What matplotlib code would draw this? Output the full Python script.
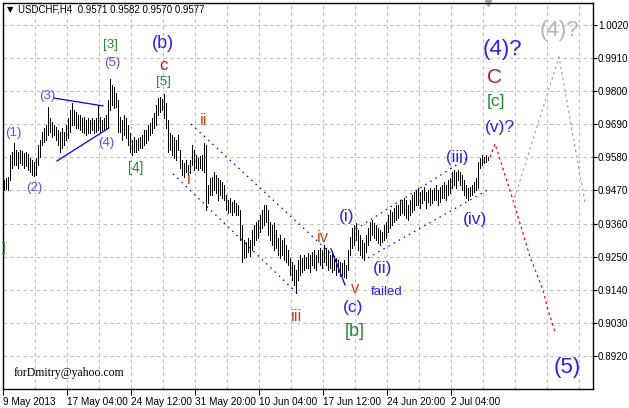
import matplotlib
matplotlib.use("Agg")
import matplotlib.pyplot as plt
import numpy as np

# USDCHF H4 bars, high / low per bar
highs = [
    0.9505, 0.9511, 0.9515, 0.9588, 0.9598, 0.9628, 0.9605, 0.9598, 0.9605, 0.9601,
    0.9595, 0.9598, 0.9591, 0.9578, 0.9571, 0.9565, 0.9578, 0.9621, 0.9638, 0.9664,
    0.9678, 0.9688, 0.9747, 0.9711, 0.9698, 0.9688, 0.9681, 0.9671, 0.9664, 0.9678,
    0.9664, 0.9688, 0.9711, 0.9738, 0.9761, 0.9738, 0.9731, 0.9721, 0.9721, 0.9711,
    0.9714, 0.9704, 0.9711, 0.9704, 0.9711, 0.9704, 0.9711, 0.9754, 0.9714, 0.9704,
    0.9711, 0.9721, 0.9771, 0.9840, 0.9820, 0.9814, 0.9794, 0.9771, 0.9714, 0.9704,
    0.9721, 0.9711, 0.9688, 0.9661, 0.9638, 0.9648, 0.9638, 0.9644, 0.9648, 0.9654,
    0.9671, 0.9671, 0.9688, 0.9694, 0.9711, 0.9728, 0.9754, 0.9777, 0.9781, 0.9774,
    0.9791, 0.9761, 0.9704, 0.9661, 0.9654, 0.9648, 0.9638, 0.9654, 0.9605, 0.9571,
    0.9561, 0.9571, 0.9555, 0.9571, 0.9621, 0.9605, 0.9588, 0.9578, 0.9585, 0.9588,
    0.9628, 0.9621, 0.9488, 0.9511, 0.9515, 0.9531, 0.9521, 0.9511, 0.9505, 0.9498,
    0.9488, 0.9455, 0.9438, 0.9445, 0.9432, 0.9438, 0.9428, 0.9422, 0.9405, 0.9355,
    0.9306, 0.9299, 0.9312, 0.9306, 0.9339, 0.9355, 0.9365, 0.9372, 0.9388, 0.9405,
    0.9422, 0.9422, 0.9405, 0.9365, 0.9355, 0.9362, 0.9339, 0.9312, 0.9322, 0.9306,
    0.9312, 0.9289, 0.9272, 0.9246, 0.9232, 0.9222, 0.9206, 0.9239, 0.9256, 0.9246,
    0.9256, 0.9249, 0.9262, 0.9256, 0.9266, 0.9272, 0.9256, 0.9272, 0.9279, 0.9272,
    0.9289, 0.9279, 0.9272, 0.9256, 0.9266, 0.9252, 0.9246, 0.9239, 0.9232, 0.9229,
    0.9239, 0.9222, 0.9272, 0.9315, 0.9345, 0.9355, 0.9362, 0.9339, 0.9322, 0.9306,
    0.9296, 0.9322, 0.9345, 0.9365, 0.9372, 0.9362, 0.9355, 0.9345, 0.9339, 0.9332,
    0.9355, 0.9365, 0.9388, 0.9405, 0.9398, 0.9412, 0.9422, 0.9422, 0.9438, 0.9438,
    0.9445, 0.9438, 0.9422, 0.9438, 0.9455, 0.9465, 0.9472, 0.9478, 0.9465, 0.9472,
    0.9482, 0.9465, 0.9472, 0.9478, 0.9472, 0.9478, 0.9488, 0.9472, 0.9482, 0.9488,
    0.9498, 0.9488, 0.9505, 0.9511, 0.9531, 0.9538, 0.9531, 0.9538, 0.9531, 0.9521,
    0.9505, 0.9488, 0.9478, 0.9482, 0.9488, 0.9498, 0.9511, 0.9565, 0.9578, 0.9588,
    0.9581, 0.9588, 0.9582]
lows = [
    0.9472, 0.9475, 0.9472, 0.9505, 0.9545, 0.9555, 0.9555, 0.9545, 0.9561, 0.9555,
    0.9545, 0.9551, 0.9538, 0.9531, 0.9521, 0.9518, 0.9521, 0.9555, 0.9581, 0.9621,
    0.9631, 0.9638, 0.9654, 0.9664, 0.9648, 0.9654, 0.9638, 0.9621, 0.9598, 0.9611,
    0.9621, 0.9638, 0.9644, 0.9664, 0.9688, 0.9688, 0.9678, 0.9678, 0.9671, 0.9664,
    0.9661, 0.9654, 0.9661, 0.9661, 0.9671, 0.9661, 0.9664, 0.9671, 0.9664, 0.9671,
    0.9671, 0.9678, 0.9681, 0.9738, 0.9754, 0.9744, 0.9747, 0.9664, 0.9664, 0.9638,
    0.9654, 0.9644, 0.9621, 0.9598, 0.9588, 0.9598, 0.9598, 0.9605, 0.9611, 0.9611,
    0.9621, 0.9628, 0.9638, 0.9654, 0.9661, 0.9678, 0.9688, 0.9721, 0.9731, 0.9738,
    0.9711, 0.9678, 0.9598, 0.9605, 0.9588, 0.9578, 0.9571, 0.9605, 0.9545, 0.9521,
    0.9515, 0.9531, 0.9521, 0.9528, 0.9555, 0.9538, 0.9545, 0.9538, 0.9545, 0.9538,
    0.9531, 0.9405, 0.9428, 0.9455, 0.9455, 0.9472, 0.9462, 0.9438, 0.9455, 0.9445,
    0.9438, 0.9405, 0.9395, 0.9398, 0.9388, 0.9398, 0.9388, 0.9388, 0.9306, 0.9232,
    0.9246, 0.9249, 0.9266, 0.9252, 0.9272, 0.9289, 0.9306, 0.9312, 0.9332, 0.9345,
    0.9355, 0.9365, 0.9322, 0.9306, 0.9289, 0.9272, 0.9279, 0.9256, 0.9246, 0.9256,
    0.9239, 0.9232, 0.9222, 0.9189, 0.9173, 0.9156, 0.9129, 0.9173, 0.9189, 0.9199,
    0.9206, 0.9212, 0.9212, 0.9199, 0.9222, 0.9212, 0.9206, 0.9232, 0.9222, 0.9212,
    0.9232, 0.9222, 0.9206, 0.9212, 0.9199, 0.9206, 0.9189, 0.9199, 0.9186, 0.9189,
    0.9183, 0.9179, 0.9206, 0.9256, 0.9279, 0.9289, 0.9306, 0.9272, 0.9256, 0.9246,
    0.9239, 0.9266, 0.9289, 0.9306, 0.9322, 0.9312, 0.9306, 0.9296, 0.9289, 0.9299,
    0.9306, 0.9312, 0.9332, 0.9345, 0.9355, 0.9365, 0.9372, 0.9379, 0.9388, 0.9395,
    0.9388, 0.9379, 0.9372, 0.9388, 0.9398, 0.9405, 0.9422, 0.9422, 0.9412, 0.9428,
    0.9438, 0.9412, 0.9432, 0.9422, 0.9428, 0.9438, 0.9438, 0.9422, 0.9432, 0.9445,
    0.9445, 0.9438, 0.9455, 0.9462, 0.9478, 0.9488, 0.9478, 0.9505, 0.9488, 0.9472,
    0.9455, 0.9445, 0.9438, 0.9452, 0.9455, 0.9465, 0.9472, 0.9478, 0.9545, 0.9555,
    0.9561, 0.9565, 0.9570]

date_labels = ["9 May 2013", "17 May 04:00", "24 May 12:00", "31 May 20:00",
               "10 Jun 04:00", "17 Jun 12:00", "24 Jun 20:00", "2 Jul 04:00"]
date_bars = [0, 32, 64, 96, 128, 160, 192, 224]
price_ticks = [0.8920, 0.9030, 0.9140, 0.9250, 0.9360, 0.9470,
               0.9580, 0.9690, 0.9800, 0.9910, 1.0020]

# wave marks: text, bar, price, kind, size
wave_labels = [
    ("(1)", 4.5, 0.9661, "small", 9.5),
    ("(2)", 15, 0.9478, "small", 9.5),
    ("(3)", 21.5, 0.9784, "small", 9.5),
    ("(4)", 51, 0.9628, "small", 9.5),
    ("(5)", 54, 0.9894, "small", 9.5),
    ("[3]", 53, 0.9953, "green", 9.5),
    ("[4]", 66, 0.9545, "green", 10),
    ("[5]", 79.5, 0.9830, "green", 9.5),
    ("c", 79.5, 0.9884, "dred", 12),
    ("(b)", 79.5, 0.9957, "blue", 13),
    ("i", 92.5, 0.9505, "roman", 12),
    ("ii", 100, 0.9704, "roman", 12),
    ("iii", 146.5, 0.9050, "roman", 12),
    ("iv", 159.5, 0.9315, "roman", 12),
    ("v", 175.5, 0.9143, "roman", 12),
    ("(c)", 174.5, 0.9080, "blue", 12.5),
    ("[b]", 175.5, 0.9000, "green", 13),
    ("(i)", 171.5, 0.9385, "blue", 12.5),
    ("(ii)", 189.5, 0.9212, "blue", 12.5),
    ("failed", 191.5, 0.9133, "blue", 9.5),
    ("(iii)", 226.5, 0.9578, "blue", 12),
    ("(iv)", 235.5, 0.9375, "blue", 12.5),
    ("(v)?", 248, 0.9678, "blue", 12.5),
    ("[c]", 246, 0.9767, "green", 12.5),
    ("C", 245.5, 0.9844, "dred", 15),
    ("(4)?", 249, 0.9940, "blue", 16),
    ("(4)?", 277.5, 1.0003, "grey", 16),
    ("(5)", 281.5, 0.8880, "blue", 16),
    ("]", 0, 0.9279, "green", 9.5),
]
colours = {"small": "#5a4cf0", "blue": "#2a22ee", "green": "#1f8a2f",
           "dred": "#b22222", "roman": "#c8481e", "grey": "#b4b4b4"}

# trend lines (bar, price)
tri_upper = ([25, 49.5], [0.9777, 0.9751])
tri_lower = ([26.5, 52.5], [0.9568, 0.9678])
v_line = ([163.5, 170.5], [0.9276, 0.9156])
fall_upper = ([93.5, 168], [0.9691, 0.9232])
fall_lower = ([84.5, 146.5], [0.9525, 0.9129])
rise_upper = ([176, 231], [0.9342, 0.9575])
rise_lower = ([182, 242], [0.9246, 0.9472])
red_path = ([243, 245.5, 254.5, 263, 269.5, 272, 275.5],
            [0.9581, 0.9625, 0.9438, 0.9249, 0.9139, 0.9073, 0.9000])
grey_path = ([254.5, 277.5, 290.5], [0.9428, 0.9914, 0.9428])

W, H = 629, 408
fig = plt.figure(figsize=(W / 100, H / 100), dpi=100)
ax = fig.add_axes([3 / W, 19 / H, 589.7 / W, 386 / H])

bars = np.arange(len(highs))
ax.vlines(bars, lows, highs, color="black", lw=0.55, antialiased=False)

ax.plot(*tri_upper, color="blue", lw=0.9)
ax.plot(*tri_lower, color="blue", lw=0.9)
ax.plot(*v_line, color="blue", lw=0.9)
for ln in (fall_upper, fall_lower, rise_upper, rise_lower):
    ax.plot(*ln, color="blue", lw=0.9, ls=(0, (1.2, 3.5)))
ax.plot(*red_path, color="red", lw=0.9, ls=(0, (2, 2.5)))
ax.plot(*grey_path, color="#a8a8a8", lw=0.9, ls=(0, (2, 2.5)))

for txt, b, p, kind, sz in wave_labels:
    ax.text(b, p, txt, color=colours[kind], fontsize=sz, ha="center", va="center",
            family="Liberation Sans", clip_on=False)

ax.set_xlim(-0.5, 294.35)
ax.set_ylim(0.8810, 1.0093)

ax.set_xticks([b - 0.5 for b in date_bars])
ax.set_xticklabels(date_labels, ha="left", fontsize=7.2, family="Liberation Sans")
ax.set_xticks(np.arange(15.5, 294, 16), minor=True)
ax.yaxis.tick_right()
ax.set_yticks(price_ticks)
ax.set_yticklabels(["%.4f" % v for v in price_ticks], fontsize=7.1, family="Liberation Sans")
ax.tick_params(axis="x", which="major", length=4, width=0.8, pad=1.5)
ax.tick_params(axis="x", which="minor", length=0)
ax.tick_params(axis="y", length=3, width=0.8, pad=0.8)
ax.grid(True, which="both", color="#c0c0c0", lw=0.8, ls=(0, (3, 3)))
ax.set_axisbelow(True)
for s in ax.spines.values():
    s.set_color("black")
    s.set_linewidth(1)

# chart shift marker
ax.plot([242], [1.0093], marker="v", color="#a0a0a0", ms=5, clip_on=False)

fig.text(7 / W, 1 - 10 / H, "\u25bc", fontsize=6, va="center", color="black")
fig.text(18 / W, 1 - 10 / H, "USDCHF,H4  0.9571 0.9582 0.9570 0.9577",
         fontsize=7, va="center", family="Liberation Sans")
fig.text(14 / W, 1 - 373 / H, "forDmitry@yahoo.com", fontsize=8.5,
         va="center", family="Liberation Serif")

fig.savefig("out.png", dpi=100)
